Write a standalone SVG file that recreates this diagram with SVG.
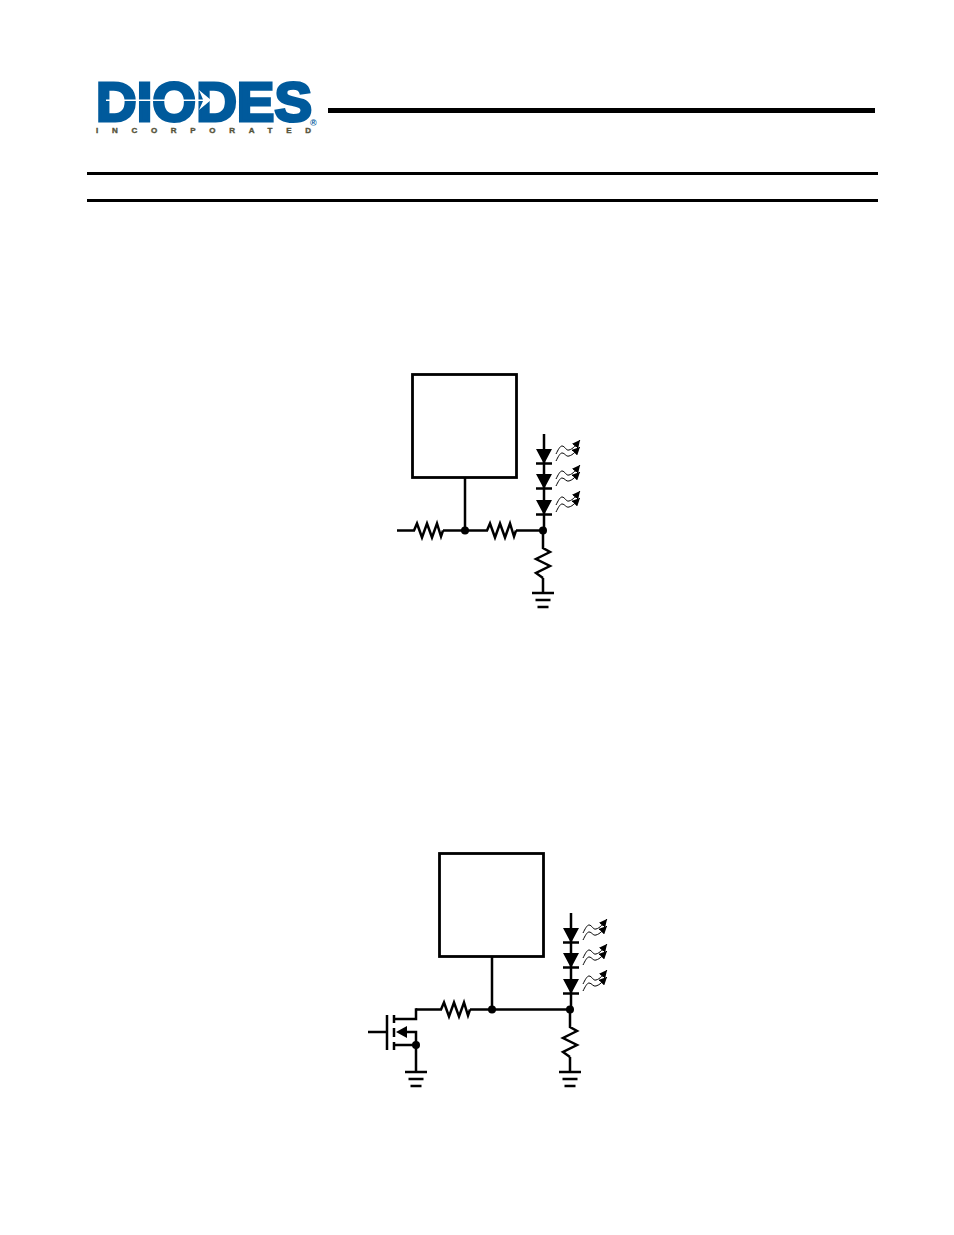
<svg xmlns="http://www.w3.org/2000/svg" width="954" height="1235" viewBox="0 0 954 1235">
<style>
.w{fill:none;stroke:#000;stroke-width:2.500;stroke-linejoin:miter}
.box{fill:#fff;stroke:#000;stroke-width:2.800}
.dot{fill:#000}
.tri{fill:#000;stroke:none}
.ray{fill:none;stroke:#000;stroke-width:1}
.logo{font-family:"Liberation Sans",Arial,sans-serif;font-weight:700}
</style>
<defs>
<marker id="ah" markerWidth="9" markerHeight="8" refX="8" refY="4" orient="auto" markerUnits="userSpaceOnUse"><path d="M0 0L8 4L0 8z" fill="#000"/></marker>
<g id="led">
<path class="tri" d="M-8 0H8L0 15z"/>
<path class="w" d="M-8 14.500H8"/>
<path class="ray" marker-end="url(#ah)" d="M12 5C14 1 16 -3 18 -3C21 -3 22 2 25 1C29 0 32 -4 36 -9"/>
<path class="ray" marker-end="url(#ah)" d="M12 12C14 8 16 4 18 4C21 4 22 8 25 7C29 6 32 2 36 -2"/>
</g>
<path id="rh" class="w" d="M0 0H1L4 -7L9 7L14 -7L19 7L24 -7L28 6L30 0"/>
<path id="rv" class="w" d="M0 0V1L7 5L-7 12L7 19L-7 26L0 31"/>
<g id="gnd"><path class="w" d="M-11 0H11M-7.500 7H7.500M-5.500 14H5.500" stroke-width="3"/></g>
</defs>
<rect width="954" height="1235" fill="#fff"/>
<g id="logo">
<text class="logo" x="96" y="120.500" font-size="55" fill="#005a9c" stroke="#005a9c" stroke-width="3" textLength="216" lengthAdjust="spacingAndGlyphs">DIODES</text>
<path d="M106 99.500H203L199 90L211 100L199 110L203 101H106z" fill="#fff"/>
<text class="logo" x="96" y="133" font-size="8" fill="#55533a" stroke="#55533a" stroke-width=".4" textLength="215" lengthAdjust="spacing">INCORPORATED</text>
<text class="logo" x="310" y="126" font-size="9" fill="#005a9c">®</text>
</g>
<g id="rules" fill="#000">
<rect x="328" y="108" width="547" height="5"/>
<rect x="87" y="172" width="791" height="3"/>
<rect x="87" y="199" width="791" height="3"/>
</g>
<g id="connectors">
<path class="w" d="M465 478V530M397 530.500H413M443 530.500H486M516 530.500H543M544 434V463M544 463V530M543 530V547M543 578V593"/>
<use href="#rh" x="413" y="530.500"/>
<use href="#rh" x="486" y="530.500"/>
<use href="#rv" x="543" y="547"/>
<path class="w" d="M492 957V1009M416 1009.500H440M470 1009.500H570M571 913V1009M570 1009V1026M570 1057V1072"/>
<use href="#rh" x="440" y="1009.500"/>
<use href="#rv" x="570" y="1026"/>
<path class="w" d="M368 1032H387M394 1019H416V1008.300M404 1032H416V1072M394 1045H416"/>
</g>
<g id="u1"><rect class="box" x="412.500" y="374.500" width="104" height="103"/></g>
<g id="led1"><use href="#led" x="544" y="449"/></g>
<g id="led2"><use href="#led" x="544" y="474"/></g>
<g id="led3"><use href="#led" x="544" y="500"/></g>
<g id="j1"><circle class="dot" cx="465" cy="530.500" r="4"/></g>
<g id="j2"><circle class="dot" cx="543" cy="530.500" r="4"/></g>
<g id="gnd1"><use href="#gnd" x="543" y="593"/></g>
<g id="u2"><rect class="box" x="439.500" y="853.500" width="104" height="103"/></g>
<g id="led4"><use href="#led" x="571" y="928"/></g>
<g id="led5"><use href="#led" x="571" y="953"/></g>
<g id="led6"><use href="#led" x="571" y="979"/></g>
<g id="j3"><circle class="dot" cx="492" cy="1009.500" r="4"/></g>
<g id="j4"><circle class="dot" cx="570" cy="1009.500" r="4"/></g>
<g id="j5"><circle class="dot" cx="416" cy="1045" r="4"/></g>
<g id="gnd2"><use href="#gnd" x="570" y="1072"/></g>
<g id="gnd3"><use href="#gnd" x="416" y="1072"/></g>
<g id="mosfet">
<path class="w" d="M387 1015V1050M394 1015V1023M394 1028V1037M394 1042V1050"/>
<path class="tri" d="M396 1032L407 1026V1038z"/>
</g>
</svg>
